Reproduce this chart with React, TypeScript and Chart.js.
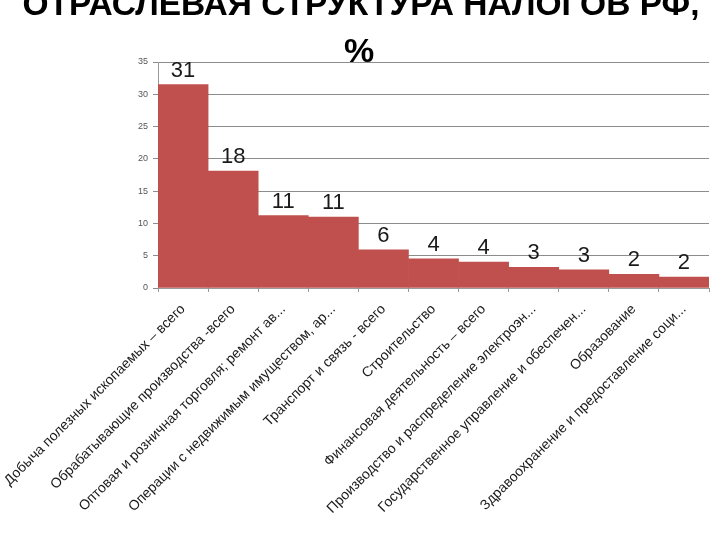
import React, { useEffect, useRef } from 'react';
import { Chart, registerables } from 'chart.js';

Chart.register(...registerables);

const CATEGORIES = [
    'Добыча полезных ископаемых – всего',
    'Обрабатывающие производства -всего',
    'Оптовая и розничная торговля; ремонт ав...',
    'Операции с недвижимым имуществом, ар...',
    'Транспорт и связь - всего',
    'Строительство',
    'Финансовая деятельность – всего',
    'Производство и распределение электроэн...',
    'Государственное управление и обеспечен...',
    'Образование',
    'Здравоохранение и предоставление соци...',
];

const SHARES = [31.5, 18.1, 11.2, 11.0, 5.9, 4.5, 4.0, 3.2, 2.8, 2.1, 1.7];

const SHARE_LABELS = ['31', '18', '11', '11', '6', '4', '4', '3', '3', '2', '2'];

const Y_MAX = 35;
const Y_STEP = 5;

// draws the number over each bar
const barValues = {
    id: 'barValues',
    afterDatasetsDraw(chart: Chart) {
        const ctx = chart.ctx;
        const meta = chart.getDatasetMeta(0);
        ctx.save();
        ctx.font = '22px "Liberation Sans", Arial, sans-serif';
        ctx.fillStyle = '#1a1a1a';
        ctx.textAlign = 'center';
        ctx.textBaseline = 'alphabetic';
        meta.data.forEach((bar: any, i: number) => {
            ctx.fillText(SHARE_LABELS[i], bar.x, bar.y - 8);
        });
        ctx.restore();
    },
};

const TaxStructureChart: React.FC = () => {
    const chartRef = useRef<HTMLCanvasElement>(null);

    useEffect(() => {
        let chartInstance: Chart | undefined;
        if (chartRef.current) {
            const ctx = chartRef.current.getContext('2d');
            if (ctx) {
                chartInstance = new Chart(ctx, {
                    type: 'bar',
                    data: {
                        labels: CATEGORIES,
                        datasets: [
                            {
                                data: SHARES,
                                backgroundColor: '#C0504D',
                                borderWidth: 0,
                                barPercentage: 1,
                                categoryPercentage: 1,
                            },
                        ],
                    },
                    options: {
                        responsive: true,
                        maintainAspectRatio: false,
                        animation: false,
                        layout: {
                            padding: { top: 62, left: 118, right: 11, bottom: 0 },
                        },
                        plugins: {
                            legend: { display: false },
                            tooltip: { enabled: false },
                            title: { display: false },
                        },
                        scales: {
                            x: {
                                grid: {
                                    drawOnChartArea: false,
                                    drawTicks: true,
                                    tickLength: 4,
                                    color: '#9a9a9a',
                                },
                                border: { color: '#9a9a9a' },
                                ticks: {
                                    autoSkip: false,
                                    minRotation: 45,
                                    maxRotation: 45,
                                    padding: 9,
                                    color: '#1a1a1a',
                                    font: { family: '"Liberation Sans", Arial, sans-serif', size: 14 },
                                },
                                afterFit: (s: any) => {
                                    s.height = 252;
                                    s.paddingLeft = 0;
                                    s.paddingRight = 0;
                                },
                            },
                            y: {
                                min: 0,
                                max: Y_MAX,
                                grid: {
                                    color: '#8c8c8c',
                                    tickLength: 5,
                                },
                                border: { color: '#9a9a9a' },
                                ticks: {
                                    stepSize: Y_STEP,
                                    padding: 5,
                                    color: '#555555',
                                    font: { family: '"Liberation Sans", Arial, sans-serif', size: 9 },
                                },
                                afterFit: (s: any) => {
                                    s.width = 40;
                                },
                            },
                        },
                    },
                    plugins: [barValues],
                });
            }
        }
        return () => chartInstance?.destroy();
    }, []);

    const titleFont = '"Liberation Sans", Arial, sans-serif';

    return (
        <div
            style={{
                position: 'fixed',
                left: 0,
                top: 0,
                width: 720,
                height: 540,
                background: '#ffffff',
                overflow: 'hidden',
            }}
        >
            <canvas ref={chartRef}></canvas>
            <div
                style={{
                    position: 'absolute',
                    left: 0,
                    width: 722,
                    top: -13,
                    textAlign: 'center',
                    fontFamily: titleFont,
                    fontWeight: 'bold',
                    fontSize: 33.5,
                    lineHeight: '34px',
                    color: '#000',
                    whiteSpace: 'nowrap',
                }}
            >
                ОТРАСЛЕВАЯ СТРУКТУРА НАЛОГОВ РФ,
            </div>
            <div
                style={{
                    position: 'absolute',
                    left: 0,
                    width: 718,
                    top: 33,
                    textAlign: 'center',
                    fontFamily: titleFont,
                    fontWeight: 'bold',
                    fontSize: 34,
                    lineHeight: '34px',
                    color: '#000',
                }}
            >
                %
            </div>
        </div>
    );
};

export default function App() {
    return <TaxStructureChart />;
}
